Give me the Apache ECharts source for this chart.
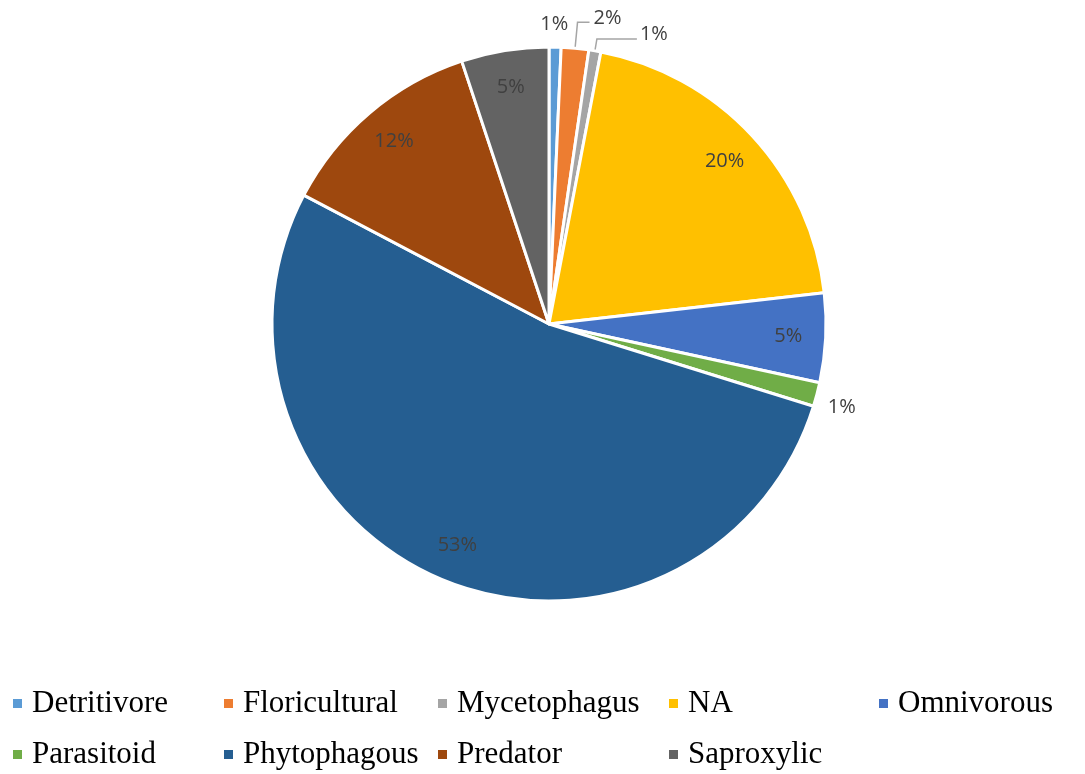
<!DOCTYPE html>
<html>
<head>
<meta charset="utf-8">
<script src="https://cdn.jsdelivr.net/npm/echarts@6/dist/echarts.min.js"></script>
<style>
html,body{margin:0;padding:0;background:#fff}
#main{width:1085px;height:774px}
</style>
</head>
<body>
<div id="main"></div>
<script>
var categories = ['Detritivore','Floricultural','Mycetophagus','NA','Omnivorous','Parasitoid','Phytophagous','Predator','Saproxylic']
var shares = [0.7, 1.6, 0.7, 20.2, 5.2, 1.4, 52.9, 12.2, 5.1]
var colors = ['#5B9BD5','#ED7D31','#A5A5A5','#FFC000','#4472C4','#70AD47','#255E91','#9E480E','#636363']
var outsideNames = ['Detritivore','Floricultural','Mycetophagus','Parasitoid']
// legend columns, as in the original (5 columns, 2 rows)
var legendCols = [['Detritivore','Parasitoid'],['Floricultural','Phytophagous'],['Mycetophagus','Predator'],['NA','Saproxylic'],['Omnivorous']]
var legendLeft = [11, 222, 436, 667, 877]

// leader lines / nudges for the small outside labels
var outsideStyle = {
    Detritivore: {line: false, length: 10, length2: 0, dx: -18, dy: -13},
    Floricultural: {line: true, length: 26, length2: 12, dx: 1, dy: -4},
    Mycetophagus: {line: true, length: 12, length2: 40, dx: 0, dy: -5},
    Parasitoid: {line: false, length: 4, length2: 0, dx: 4, dy: 12}
}

function pct(p){ return Math.round(p.percent) + '%' }

var labelFont = {fontFamily:'Open Sans', fontSize:20, color:'#404040'}

var mainData = categories.map(function (name, i) {
    var st = outsideStyle[name]
    return {
        name: name,
        value: shares[i],
        itemStyle: {color: colors[i]},
        label: {show: !!st},
        labelLine: st ? {show: st.line, length: st.length, length2: st.length2} : {show: false}
    }
})
var innerData = categories.map(function (name, i) {
    return {
        name: name,
        value: shares[i],
        label: {show: outsideNames.indexOf(name) < 0}
    }
})

var legends = legendCols.map(function (col, i) {
    return {
        data: col,
        orient: 'vertical',
        left: legendLeft[i],
        top: 688,
        padding: 0,
        itemGap: 20,
        itemWidth: 11,
        itemHeight: 11,
        icon: 'rect',
        selectedMode: false,
        textStyle: {fontFamily: 'Liberation Serif', fontSize: 31, color: '#000', padding: [0, 0, 0, 4]}
    }
})

var myChart = echarts.init(document.getElementById('main'))
var option = {
    animation: false,
    color: colors,
    legend: legends,
    series: [
        {
            type: 'pie',
            center: [549, 324],
            radius: [0, 277],
            startAngle: 90,
            clockwise: true,
            avoidLabelOverlap: false,
            itemStyle: {borderColor: '#fff', borderWidth: 3},
            label: Object.assign({position: 'outside', formatter: pct, distanceToLabelLine: 3}, labelFont),
            labelLine: {lineStyle: {color: '#A5A5A5', width: 1.5}},
            labelLayout: function (params) {
                var st = outsideStyle[categories[params.dataIndex]]
                if (!st) return {}
                return {dx: st.dx, dy: st.dy, hideOverlap: false}
            },
            emphasis: {disabled: true},
            data: mainData
        },
        {
            type: 'pie',
            center: [549, 324],
            radius: [196, 277],
            startAngle: 90,
            clockwise: true,
            silent: true,
            avoidLabelOverlap: false,
            itemStyle: {color: 'transparent', borderWidth: 0},
            label: Object.assign({position: 'inside', formatter: pct}, labelFont),
            labelLine: {show: false},
            emphasis: {disabled: true},
            data: innerData
        }
    ]
}
myChart.setOption(option)
</script>
</body>
</html>
